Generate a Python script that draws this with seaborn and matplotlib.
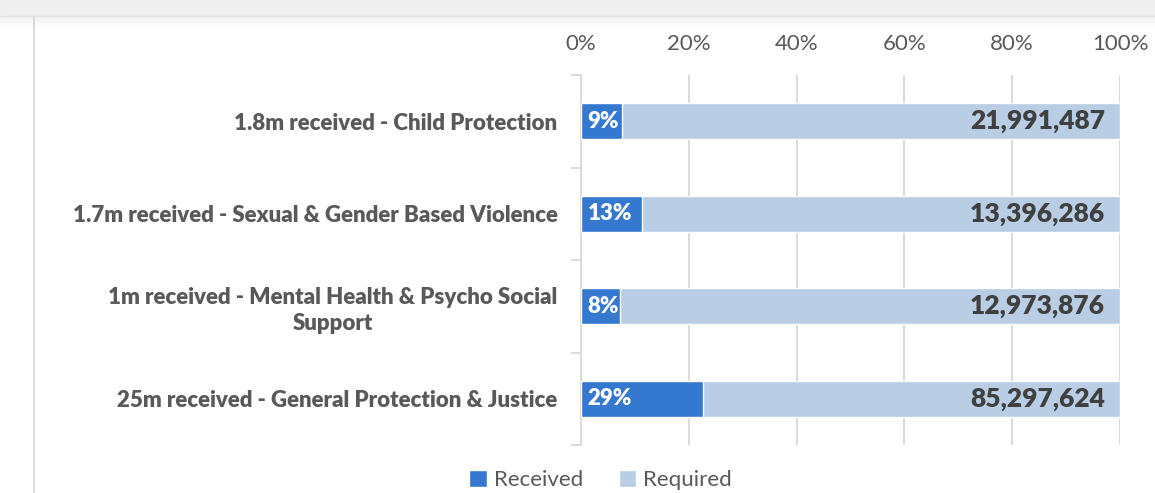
import matplotlib
matplotlib.use('Agg')
import matplotlib.pyplot as plt
from matplotlib.patches import Rectangle, Patch
from matplotlib.lines import Line2D
import seaborn as sns
import pandas as pd

# Data
categories = [
    '1.8m received - Child Protection',
    '1.7m received - Sexual & Gender Based Violence',
    '1m received - Mental Health & Psycho Social\nSupport',
    '25m received - General Protection & Justice',
]
received = [1_800_000, 1_700_000, 1_000_000, 25_000_000]
required = [21_991_487, 13_396_286, 12_973_876, 85_297_624]
pct_labels = ['9%', '13%', '8%', '29%']
x_ticks = [0, 0.2, 0.4, 0.6, 0.8, 1.0]
x_tick_labels = ['0%', '20%', '40%', '60%', '80%', '100%']

REC_COLOR = '#3478cf'
REQ_COLOR = '#b9cde5'
GRID = '#d9d9d9'
TEXT = '#595959'

df = pd.DataFrame({'category': categories, 'received': received, 'required': required})
df['total'] = df['received'] + df['required']
df['rec_share'] = df['received'] / df['total']
df['full'] = df['total'] / df['total']

sns.set_theme(style='white')
plt.rcParams['font.family'] = ['Lato', 'DejaVu Sans']

W, H = 1155, 493
fig = plt.figure(figsize=(W / 100, H / 100), dpi=100)

# card edge at top + left border line
fig.patches.append(Rectangle((0, 1 - 16 / H), 1, 16 / H, transform=fig.transFigure,
                             facecolor='#efefef', edgecolor='none', zorder=0))
for i in range(12):
    fig.patches.append(Rectangle((0, 1 - (17 + i) / H), 1, 1 / H, transform=fig.transFigure,
                                 facecolor='#000000', alpha=0.05 * (1 - i / 12), edgecolor='none', zorder=0))
fig.lines.append(Line2D([0, 1], [1 - 16 / H] * 2, transform=fig.transFigure, color='#e2e2e2', lw=1))
fig.lines.append(Line2D([34 / W] * 2, [0, 1 - 17 / H], transform=fig.transFigure, color='#d5d5d5', lw=1.3))

ax = fig.add_axes([581 / W, 1 - 445 / H, 539 / W, 370 / H])

sns.barplot(data=df, y='category', x='full', color=REQ_COLOR, saturation=1, width=0.39,
            orient='h', ax=ax, zorder=2)
sns.barplot(data=df, y='category', x='rec_share', color=REC_COLOR, saturation=1, width=0.39,
            orient='h', ax=ax, zorder=3)

ax.set_xlim(0, 1)
ax.set_ylim(3.5, -0.5)
ax.set_xticks(x_ticks)
ax.set_xticklabels(x_tick_labels)
ax.xaxis.tick_top()
ax.tick_params(axis='x', length=0, pad=15, labelsize=16, labelcolor=TEXT)
ax.xaxis.grid(True, color=GRID, lw=1.4, zorder=0)
ax.set_axisbelow(True)
ax.set_xlabel('')
ax.set_ylabel('')

ax.tick_params(axis='y', length=0, pad=17, labelsize=16)
for lbl in ax.get_yticklabels():
    lbl.set_fontweight('heavy')
    lbl.set_color(TEXT)
    lbl.set_multialignment('center')
    lbl.set_linespacing(1.3)
ax.set_yticks([-0.5, 0.5, 1.5, 2.5, 3.5], minor=True)
ax.tick_params(axis='y', which='minor', length=7, width=1.3, color=GRID, left=True)

for side in ['top', 'right', 'bottom']:
    ax.spines[side].set_visible(False)
ax.spines['left'].set_color(GRID)
ax.spines['left'].set_linewidth(1.3)

# data labels
for i, row in df.iterrows():
    ax.text(0.012, i, pct_labels[i], ha='left', va='center', color='white',
            fontsize=16, fontweight='heavy', zorder=5)
    ax.text(0.972, i, f"{row['required']:,}", ha='right', va='center', color='#404040',
            fontsize=19, fontweight='heavy', zorder=5)

handles = [Patch(facecolor=REC_COLOR, label='Received'),
           Patch(facecolor=REQ_COLOR, label='Required')]
fig.legend(handles=handles, loc='lower center', bbox_to_anchor=(0.52, -0.035), ncol=2,
           frameon=False, fontsize=16, labelcolor=TEXT, handlelength=0.8, handleheight=0.8,
           handletextpad=0.3, columnspacing=1.6)

fig.savefig('out.png', dpi=100, facecolor='white')
